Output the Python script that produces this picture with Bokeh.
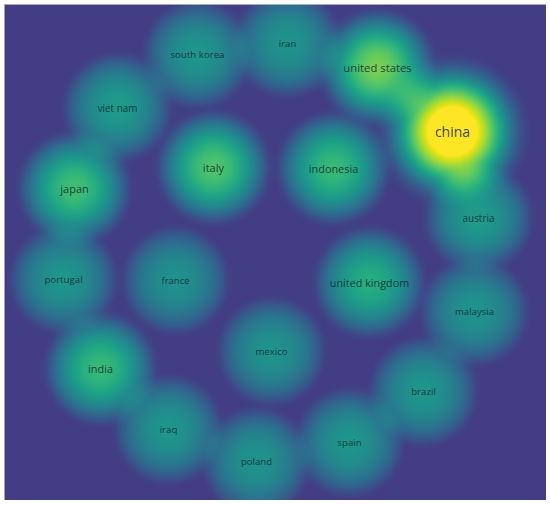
import numpy as np
from bokeh.plotting import figure
from bokeh.models import LinearColorMapper, ColumnDataSource
from bokeh.palettes import Viridis256
from bokeh.core.properties import value
from bokeh.embed import file_html
from bokeh.resources import INLINE

labels = ["south korea", "iran", "united states", "china", "viet nam", "italy",
          "indonesia", "japan", "austria", "portugal", "france", "united kingdom",
          "malaysia", "mexico", "india", "brazil", "iraq", "spain", "poland"]
map_x = [193, 283, 373, 448, 113, 209, 329, 70, 474, 59, 171, 365, 470, 267, 96, 419, 164, 345, 252]
map_y = [446, 457, 433, 369, 393, 333, 332, 312, 283, 221, 220, 218, 189, 149, 132, 109, 71, 58, 39]
density = [0.35, 0.34, 0.62, 1.00, 0.37, 0.55, 0.50, 0.52, 0.37, 0.35, 0.33, 0.45,
           0.34, 0.34, 0.50, 0.35, 0.35, 0.35, 0.34]

MAP_W, MAP_H = 542, 496

# ---- density surface ----
t0 = 0.18
dens = np.array(density)
radius = np.interp(dens, [0.30, 0.60, 1.00], [53, 59, 80])
power = np.interp(dens, [0.34, 0.55, 1.00], [0.85, 1.1, 2.0])

gx = np.arange(MAP_W) + 0.5
gy = np.arange(MAP_H) + 0.5
XX, YY = np.meshgrid(gx, gy)
S = np.zeros_like(XX)
for x, y, a, R, pw in zip(map_x, map_y, dens, radius, power):
    s2 = ((XX - x) ** 2 + (YY - y) ** 2) / R ** 2
    S += a * np.clip(1 - s2, 0, 1) ** pw

# light smoothing of the surface
k = np.arange(-9, 10)
kern = np.exp(-k ** 2 / (2 * 3.5 ** 2))
kern /= kern.sum()
Sp = np.pad(S, 9, mode="edge")
Sp = np.apply_along_axis(lambda v: np.convolve(v, kern, mode="same"), 0, Sp)
Sp = np.apply_along_axis(lambda v: np.convolve(v, kern, mode="same"), 1, Sp)
S = Sp[9:-9, 9:-9]
T = np.clip(t0 + S, 0, 1).astype(np.float32)

p = figure(width=MAP_W, height=MAP_H, x_range=(0, MAP_W), y_range=(0, MAP_H),
           output_backend="svg", toolbar_location=None, min_border=0,
           margin=(4, 0, 0, 4))
p.axis.visible = False
p.grid.visible = False
p.outline_line_color = "#c8c8d8"
p.outline_line_width = 1

mapper = LinearColorMapper(palette=Viridis256, low=0, high=1)
p.image(image=[T], x=0, y=0, dw=MAP_W, dh=MAP_H, color_mapper=mapper)

sizes = np.interp(dens, [0.33, 0.45, 0.62, 1.0], [9.5, 10.8, 11.3, 14.0])
src = ColumnDataSource(dict(x=map_x, y=map_y, text=labels,
                            size=[f"{s:.1f}px" for s in sizes]))
p.text(x="x", y="y", text="text", source=src, text_font=value("Open Sans"),
       text_font_size="size", text_align="center", text_baseline="middle",
       text_color="#13262f", text_alpha=0.85)

open("out.html", "w").write(file_html(p, INLINE))
